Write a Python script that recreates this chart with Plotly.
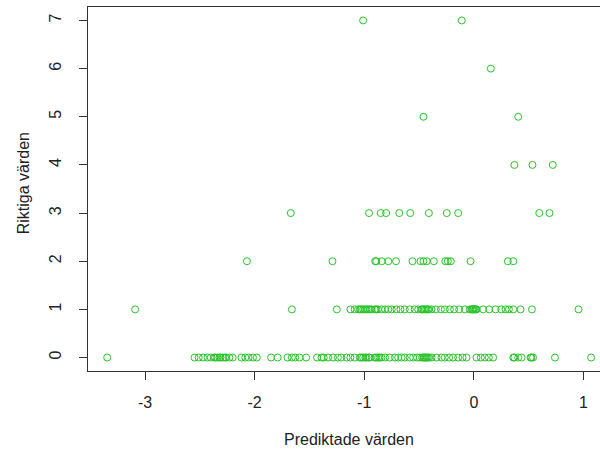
import plotly.graph_objects as go

# Predicted values grouped by the observed (true) count
pred_0 = [-3.345, -2.548, -2.51, -2.47, -2.43, -2.40, -2.37, -2.34, -2.32, -2.29,
          -2.26, -2.23, -2.20, -2.12, -2.085, -2.055, -2.015, -1.98, -1.85, -1.79,
          -1.70, -1.66, -1.63, -1.59, -1.53, -1.43, -1.39, -1.37, -1.33, -1.285,
          -1.24, -1.21, -1.16, -1.126, -1.087, -1.04, -1.01, -0.98, -0.95, -0.904,
          -0.874, -0.843, -0.81, -0.767, -0.72, -0.69, -0.66, -0.63, -0.584, -0.554,
          -0.518, -0.493, -0.472, -0.45, -0.43, -0.408, -0.386, -0.34, -0.295, -0.265,
          -0.225, -0.19, -0.143, -0.103, -0.067, 0.024, 0.064, 0.10, 0.137, 0.176,
          0.36, 0.405, 0.435, 0.517, 0.54, 0.74, 1.07,
          -2.36, -2.31, -2.27, -1.025, -0.99, -0.96, -0.89, -0.86, -0.46, -0.44,
          -0.42, 0.37, 0.525]
pred_1 = [-3.09, -1.66, -1.25, -1.126, -1.087, -1.056, -1.026, -0.995, -0.965, -0.934,
          -0.904, -0.874, -0.843, -0.81, -0.78, -0.75, -0.706, -0.67, -0.63, -0.584,
          -0.539, -0.508, -0.478, -0.457, -0.432, -0.411, -0.386, -0.347, -0.30, -0.265,
          -0.219, -0.18, -0.134, -0.082, -0.037, -0.02, -0.006, 0.01, 0.025, 0.085,
          0.14, 0.198, 0.25, 0.29, 0.32, 0.36, 0.426, 0.53, 0.955,
          -1.04, -1.01, -0.98, -0.95, -0.89, -0.47, -0.445, -0.42, -0.013, 0.0, 0.017]
pred_2 = [-2.07, -1.29, -0.90, -0.89, -0.84, -0.78, -0.71, -0.56, -0.487, -0.46,
          -0.43, -0.365, -0.26, -0.237, -0.21, -0.03, 0.31, 0.36]
pred_3 = [-1.67, -0.956, -0.85, -0.80, -0.68, -0.58, -0.41, -0.247, -0.143, 0.597, 0.69]
pred_4 = [0.37, 0.535, 0.72]
pred_5 = [-0.46, 0.405]
pred_6 = [0.155]
pred_7 = [-1.01, -0.11]

groups = [pred_0, pred_1, pred_2, pred_3, pred_4, pred_5, pred_6, pred_7]
x_vals = [v for g in groups for v in g]
y_vals = [k for k, g in enumerate(groups) for _ in g]

x_ticks = [-3, -2, -1, 0, 1]
y_ticks = [0, 1, 2, 3, 4, 5, 6, 7]

font = dict(family="Liberation Sans, Arial, sans-serif", size=16, color="#222222")

fig = go.Figure(
    go.Scatter(
        x=x_vals, y=y_vals, mode="markers",
        marker=dict(symbol="circle-open", size=7, color="rgb(40,195,40)",
                    line=dict(width=1)),
        hoverinfo="x+y",
    )
)

fig.update_layout(
    width=600, height=455,
    margin=dict(l=88, r=0, t=7, b=83.5),
    paper_bgcolor="white", plot_bgcolor="white",
    showlegend=False,
    font=font,
    annotations=[
        dict(text="Prediktade värden", xref="paper", yref="paper",
             x=(349 - 88) / 512, y=(371.5 - 440) / 364.5,
             xanchor="center", yanchor="middle", showarrow=False, font=font),
        dict(text="Riktiga värden", xref="paper", yref="paper",
             x=(23.5 - 88) / 512, y=(371.5 - 184) / 364.5, textangle=-90,
             xanchor="center", yanchor="middle", showarrow=False, font=font),
    ],
)

fig.update_xaxes(
    range=[-3.52, 1.151], tickvals=x_ticks, ticktext=[str(t) for t in x_ticks],
    showgrid=False, zeroline=False,
    showline=True, linecolor="#333333", linewidth=1, mirror=True,
    ticks="outside", ticklen=8, tickcolor="#333333", tickwidth=1,
    ticklabelstandoff=9,
)
fig.update_yaxes(
    range=[-0.28, 7.28], tickvals=y_ticks, ticktext=[str(t) for t in y_ticks],
    showgrid=False, zeroline=False,
    showline=True, linecolor="#333333", linewidth=1, mirror=False,
    ticks="outside", ticklen=8, tickcolor="#333333", tickwidth=1,
    tickangle=-90, ticklabelstandoff=12,
)

fig.write_html("out.html")
